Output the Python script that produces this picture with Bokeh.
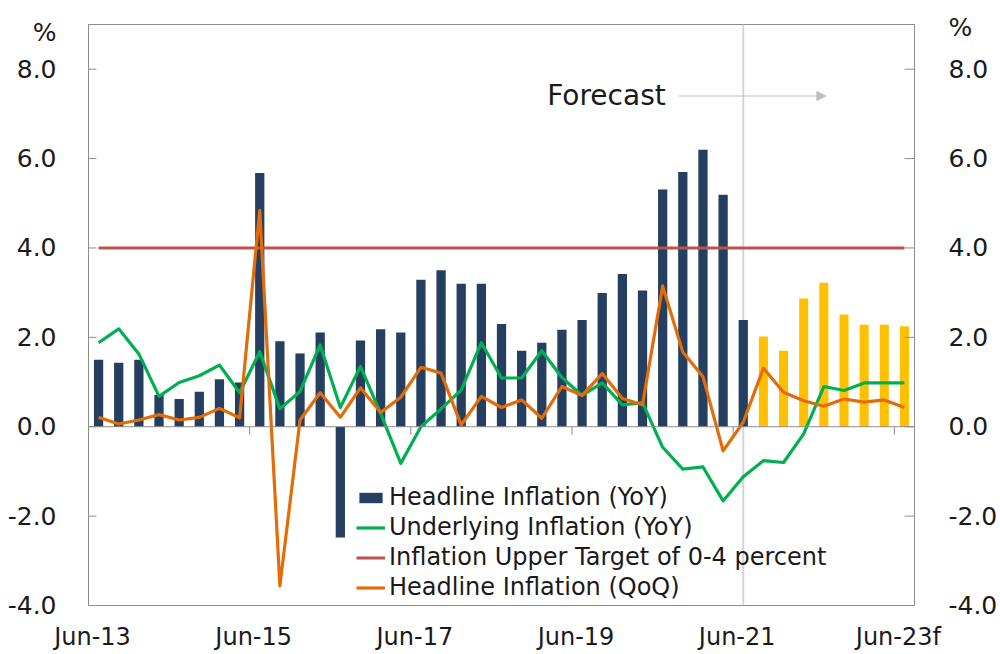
from bokeh.plotting import figure
from bokeh.models import (FixedTicker, PrintfTickFormatter, LinearAxis,
                          Span, Label, Arrow, NormalHead, Legend, LegendItem)
from bokeh.embed import file_html
from bokeh.resources import INLINE

# ---------------- data ----------------
quarters = ["Jun-13", "Sep-13", "Dec-13", "Mar-14", "Jun-14", "Sep-14", "Dec-14", "Mar-15",
            "Jun-15", "Sep-15", "Dec-15", "Mar-16", "Jun-16", "Sep-16", "Dec-16", "Mar-17",
            "Jun-17", "Sep-17", "Dec-17", "Mar-18", "Jun-18", "Sep-18", "Dec-18", "Mar-19",
            "Jun-19", "Sep-19", "Dec-19", "Mar-20", "Jun-20", "Sep-20", "Dec-20", "Mar-21",
            "Jun-21", "Sep-21", "Dec-21", "Mar-22", "Jun-22", "Sep-22", "Dec-22", "Mar-23",
            "Jun-23"]

headline_yoy_actual = [1.50, 1.43, 1.50, 0.71, 0.62, 0.78, 1.06, 0.99,
                       5.68, 1.91, 1.64, 2.11, -2.48, 1.93, 2.18, 2.11,
                       3.29, 3.50, 3.20, 3.20, 2.30, 1.70, 1.88, 2.17,
                       2.39, 2.99, 3.42, 3.05, 5.31, 5.70, 6.20, 5.19,
                       2.39]
headline_yoy_forecast = [2.02, 1.70, 2.87, 3.22, 2.51, 2.28, 2.28, 2.25]

underlying_yoy = [1.88, 2.19, 1.63, 0.68, 0.99, 1.14, 1.38, 0.76,
                  1.68, 0.40, 0.79, 1.83, 0.43, 1.35, 0.30, -0.82,
                  0.00, 0.40, 0.82, 1.88, 1.09, 1.09, 1.70, 1.10,
                  0.70, 0.98, 0.49, 0.54, -0.46, -0.95, -0.90, -1.66,
                  -1.12, -0.76, -0.80, -0.16, 0.90, 0.81, 0.98, 0.98,
                  0.98]

target_upper = [4.0, 4.0, 4.0, 4.0, 4.0, 4.0, 4.0, 4.0, 4.0, 4.0, 4.0, 4.0, 4.0, 4.0,
                4.0, 4.0, 4.0, 4.0, 4.0, 4.0, 4.0, 4.0, 4.0, 4.0, 4.0, 4.0, 4.0, 4.0,
                4.0, 4.0, 4.0, 4.0, 4.0, 4.0, 4.0, 4.0, 4.0, 4.0, 4.0, 4.0, 4.0]

headline_qoq = [0.21, 0.06, 0.15, 0.27, 0.15, 0.21, 0.41, 0.20,
                4.84, -3.56, 0.15, 0.76, 0.21, 0.87, 0.32, 0.66,
                1.33, 1.20, 0.04, 0.68, 0.43, 0.60, 0.19, 0.90,
                0.70, 1.19, 0.63, 0.49, 3.15, 1.67, 1.12, -0.54,
                0.10, 1.31, 0.77, 0.58, 0.46, 0.62, 0.55, 0.60,
                0.43]

label_quarters = ["Jun-13", "Jun-15", "Jun-17", "Jun-19", "Jun-21", "Jun-23"]
label_texts = ["Jun-13", "Jun-15", "Jun-17", "Jun-19", "Jun-21", "Jun-23f"]
y_ticks = [-4, -2, 0, 2, 4, 6, 8]
unit_label = "%"

# ---------------- styling ----------------
FONT = "DejaVu Sans"
TXT = "#1A1A1A"
AXIS_GRAY = "#8C8C8C"
NAVY = "#243F60"
YELLOW = "#FFC000"
GREEN = "#00B050"
RED = "#C0504D"
ORANGE = "#E36C09"

W, H = 1000, 654
B_LEFT, B_RIGHT, B_TOP, B_BOTTOM = 88, 80, 24, 49
FRAME_W = W - B_LEFT - B_RIGHT

n_act = len(headline_yoy_actual)
x_all = list(range(len(quarters)))
x_act = x_all[:n_act]
x_fc = x_all[n_act:]
x_lo, x_hi = -0.5, len(quarters) - 0.5
px_per_unit = FRAME_W / (x_hi - x_lo)

p = figure(width=W, height=H, x_range=(x_lo, x_hi), y_range=(-4, 9),
           output_backend="svg", toolbar_location=None,
           min_border_left=B_LEFT, min_border_right=B_RIGHT,
           min_border_top=B_TOP, min_border_bottom=B_BOTTOM)
p.xgrid.visible = False
p.ygrid.visible = False
p.outline_line_color = AXIS_GRAY
p.outline_line_width = 1
p.background_fill_color = "white"
p.border_fill_color = "white"

# forecast divider (under glyphs)
p.add_layout(Span(location=x_act[-1], dimension="height", line_color="#D4D4D4",
                  line_width=2, level="underlay"))

# bars
r_bar = p.vbar(x=x_act, top=headline_yoy_actual, width=0.46, fill_color=NAVY, line_color=None)
p.vbar(x=x_fc, top=headline_yoy_forecast, width=0.45, fill_color=YELLOW, line_color=None)

# zero (category) axis line and its tick marks
p.add_layout(Span(location=0, dimension="width", line_color=AXIS_GRAY, line_width=1))
tick_idx = [quarters.index(q) - 0.5 for q in label_quarters]
p.segment(x0=tick_idx, x1=tick_idx, y0=[0] * len(tick_idx), y1=[-0.18] * len(tick_idx),
          line_color=AXIS_GRAY, line_width=1)

# inward y tick marks on both value axes
p.segment(x0=[x_lo] * len(y_ticks), x1=[x_lo + 8 / px_per_unit] * len(y_ticks),
          y0=y_ticks, y1=y_ticks, line_color=AXIS_GRAY, line_width=1)
p.segment(x0=[x_hi] * len(y_ticks), x1=[x_hi - 10 / px_per_unit] * len(y_ticks),
          y0=y_ticks, y1=y_ticks, line_color=AXIS_GRAY, line_width=1)

# lines
r_green = p.line(x_all, underlying_yoy, line_color=GREEN, line_width=3.2, line_join="round")
r_red = p.line(x_all, target_upper, line_color=RED, line_width=3)
r_orange = p.line(x_all, headline_qoq, line_color=ORANGE, line_width=3.2, line_join="round")

# x axis
xa = p.xaxis[0]
label_pos = [quarters.index(q) - 0.3 for q in label_quarters]
xa.ticker = FixedTicker(ticks=label_pos)
xa.major_label_overrides = {pos: txt for pos, txt in zip(label_pos, label_texts)}
xa.axis_line_color = None
xa.major_tick_line_color = None
xa.minor_tick_line_color = None
xa.major_label_text_font = FONT
xa.major_label_text_font_size = "24px"
xa.major_label_text_color = TXT
xa.major_label_standoff = 11

# y axes (with the "%" unit shown as an extra label at the top)
def style_y(ax, standoff, unit_pos):
    ax.ticker = FixedTicker(ticks=y_ticks + [unit_pos])
    ax.formatter = PrintfTickFormatter(format="%.1f")
    ax.major_label_overrides = {unit_pos: unit_label}
    ax.axis_line_color = AXIS_GRAY
    ax.major_tick_line_color = None
    ax.minor_tick_line_color = None
    ax.major_label_text_font = FONT
    ax.major_label_text_font_size = "25px"
    ax.major_label_text_color = TXT
    ax.major_label_standoff = standoff

style_y(p.yaxis[0], 26, 8.83)
ra = LinearAxis()
style_y(ra, 28, 8.94)
p.add_layout(ra, "right")

# forecast annotation
p.add_layout(Label(x=28.15, y=7.42, text="Forecast", text_font=FONT, text_font_size="28px",
                   text_color=TXT, text_align="right", text_baseline="middle"))
p.add_layout(Arrow(x_start=28.8, x_end=36.1, y_start=7.4, y_end=7.4,
                   line_color="#BFBFBF", line_width=1,
                   end=NormalHead(size=9, fill_color="#BFBFBF", line_color="#BFBFBF")))

# legend
legend = Legend(items=[
    LegendItem(label="Headline Inflation (YoY)", renderers=[r_bar]),
    LegendItem(label="Underlying Inflation (YoY)", renderers=[r_green]),
    LegendItem(label="Inflation Upper Target of 0-4 percent", renderers=[r_red]),
    LegendItem(label="Headline Inflation (QoQ)", renderers=[r_orange]),
], location=(268, 3))
legend.border_line_color = None
legend.background_fill_alpha = 0
legend.padding = 0
legend.margin = 0
legend.spacing = 0
legend.glyph_width = 29
legend.glyph_height = 13
legend.label_height = 30
legend.label_standoff = 4
legend.label_text_font = FONT
legend.label_text_font_size = "24px"
legend.label_text_color = TXT
legend.label_text_baseline = "middle"
p.add_layout(legend, "center")

open("out.html", "w").write(file_html(p, INLINE))
